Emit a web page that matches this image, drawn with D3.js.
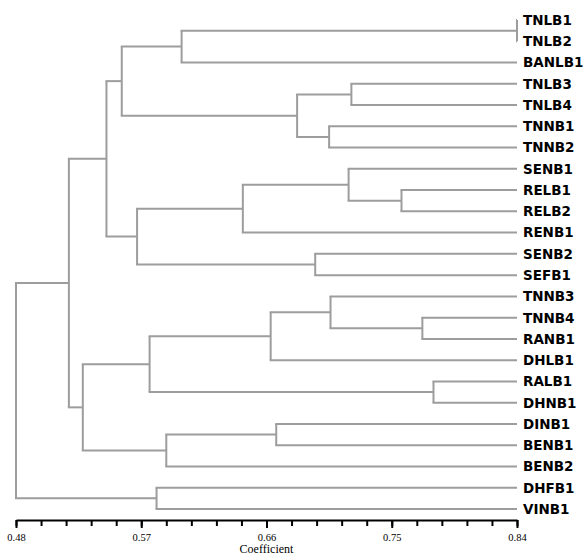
<!DOCTYPE html>
<html>
<head>
<meta charset="utf-8">
<script src="https://cdn.jsdelivr.net/npm/d3@7"></script>
<style>
  html, body { margin: 0; padding: 0; background: #fff; }
  svg { display: block; }
</style>
</head>
<body>
<svg id="chart" width="584" height="558"></svg>
<script>
// Leaves in display order (top to bottom)
const leaves = ["TNLB1","TNLB2","BANLB1","TNLB3","TNLB4","TNNB1","TNNB2","SENB1","RELB1","RELB2","RENB1","SENB2","SEFB1","TNNB3","TNNB4","RANB1","DHLB1","RALB1","DHNB1","DINB1","BENB1","BENB2","DHFB1","VINB1"];
const leafLevel = 0.84;

// Cluster merges: [id, child A, child B, coefficient]
const merges = [
  ["m1",  "TNLB1", "TNLB2", 0.84],
  ["m2",  "m1", "BANLB1", 0.599],
  ["m3",  "TNLB3", "TNLB4", 0.721],
  ["m4",  "TNNB1", "TNNB2", 0.705],
  ["m5",  "m3", "m4", 0.682],
  ["m6",  "m2", "m5", 0.556],
  ["m7",  "RELB1", "RELB2", 0.757],
  ["m8",  "SENB1", "m7", 0.719],
  ["m9",  "m8", "RENB1", 0.643],
  ["m10", "SENB2", "SEFB1", 0.695],
  ["m11", "m9", "m10", 0.567],
  ["m12", "m6", "m11", 0.545],
  ["m13", "TNNB4", "RANB1", 0.772],
  ["m14", "TNNB3", "m13", 0.706],
  ["m15", "m14", "DHLB1", 0.663],
  ["m16", "RALB1", "DHNB1", 0.780],
  ["m17", "m15", "m16", 0.576],
  ["m18", "DINB1", "BENB1", 0.667],
  ["m19", "m18", "BENB2", 0.588],
  ["m20", "m17", "m19", 0.528],
  ["m21", "m12", "m20", 0.518],
  ["m22", "DHFB1", "VINB1", 0.581],
  ["m23", "m21", "m22", 0.48]
];

const majorTicks = [0.48, 0.57, 0.66, 0.75, 0.84];
const minorTicks = [0.48,0.498,0.516,0.534,0.552,0.57,0.588,0.606,0.624,0.642,0.66,0.678,0.696,0.714,0.732,0.75,0.768,0.786,0.804,0.822,0.84];
const axisTitle = "Coefficient";

// Build tree
const nodes = {};
leaves.forEach(n => nodes[n] = {name: n, coef: leafLevel});
merges.forEach(([id, a, b, c]) => nodes[id] = {name: id, coef: c, children: [nodes[a], nodes[b]]});
const root = d3.hierarchy(nodes["m23"]);

const svg = d3.select("#chart");
const x = d3.scaleLinear().domain([0.48, 0.84]).range([16, 517]);
const y = d3.scalePoint().domain(leaves).range([20, 509]);

// compute y positions
root.eachAfter(d => {
  if (!d.children) d.py = y(d.data.name);
  else d.py = (d.children[0].py + d.children[d.children.length - 1].py) / 2;
  d.px = x(d.data.coef);
});

const lineColor = "#9d9d9d";
const g = svg.append("g").attr("fill", "none").attr("stroke", lineColor).attr("stroke-width", 2);

// vertical connectors
g.selectAll("line.v").data(root.descendants().filter(d => d.children)).join("line")
  .attr("class", "v")
  .attr("x1", d => d.px).attr("x2", d => d.px)
  .attr("y1", d => d.children[0].py).attr("y2", d => d.children[d.children.length - 1].py);

// horizontal branches
g.selectAll("line.h").data(root.descendants().filter(d => d.parent)).join("line")
  .attr("class", "h")
  .attr("x1", d => d.parent.px - 1).attr("x2", d => d.px)
  .attr("y1", d => d.py).attr("y2", d => d.py);

// leaf labels
svg.append("g").selectAll("text").data(root.leaves()).join("text")
  .attr("x", 523).attr("y", d => d.py)
  .attr("dy", "0.36em")
  .attr("font-family", "DejaVu Sans, Verdana, sans-serif")
  .attr("font-weight", "bold")
  .attr("font-size", 13.5)
  .attr("fill", "#000")
  .text(d => d.data.name);

// axis
const axisY = 520;
const minorAxis = d3.axisBottom(x).tickValues(minorTicks).tickSize(6).tickSizeOuter(0).tickFormat("");
const majorAxis = d3.axisBottom(x).tickValues(majorTicks).tickSize(8).tickSizeOuter(0).tickPadding(6).tickFormat(d3.format(".2f"));

const ga = svg.append("g").attr("transform", `translate(0,${axisY})`).call(minorAxis);
ga.selectAll(".tick line").attr("stroke", "#000").attr("stroke-width", 2);
ga.select(".domain").attr("stroke", "#000").attr("stroke-width", 2);

const gm = svg.append("g").attr("transform", `translate(0,${axisY})`).call(majorAxis);
gm.select(".domain").remove();
gm.selectAll(".tick line").attr("stroke", "#000").attr("stroke-width", 2);
gm.selectAll(".tick text")
  .attr("font-family", "Liberation Serif, Times New Roman, serif")
  .attr("font-size", 10.5)
  .attr("fill", "#000");

svg.append("text")
  .attr("x", x(0.66)).attr("y", 553)
  .attr("text-anchor", "middle")
  .attr("font-family", "Liberation Serif, Times New Roman, serif")
  .attr("font-size", 12)
  .attr("fill", "#000")
  .text(axisTitle);
</script>
</body>
</html>
